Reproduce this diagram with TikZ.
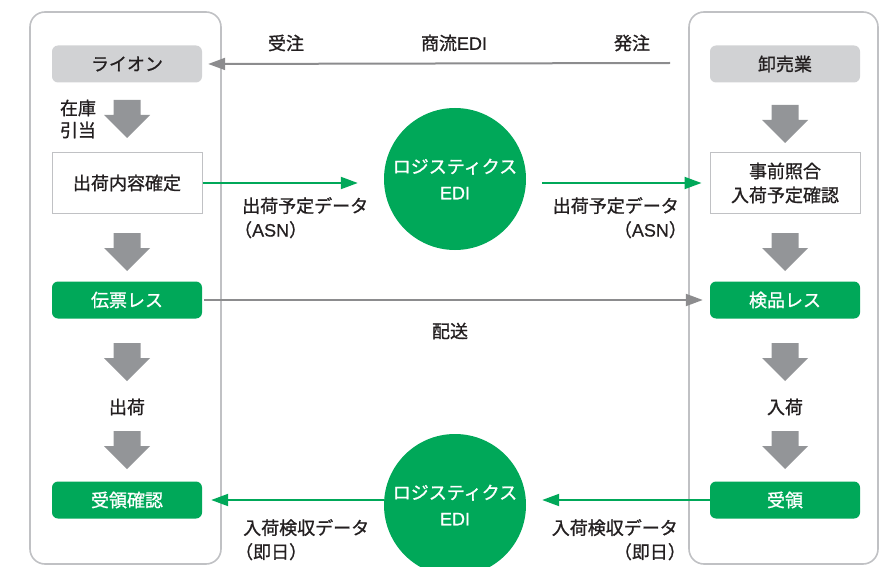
\documentclass[tikz,border=0pt]{standalone}
\usepackage{fontspec}
\setmainfont{Noto Sans CJK JP}[FakeBold=1.0]
\newfontfamily\latnfont{Liberation Sans}[FakeBold=0.6]
\usetikzlibrary{
  arrows.meta,
  positioning
}
\definecolor{edigreen}{RGB}{0,168,89}
\definecolor{boxgray}{RGB}{209,210,212}
\definecolor{arrgray}{RGB}{147,149,152}
\definecolor{linegray}{RGB}{140,140,142}
\definecolor{panelgray}{RGB}{192,193,196}
\definecolor{txtdark}{RGB}{35,31,32}
\newcommand{\lblfont}{\fontsize{18}{24}\selectfont}
\newcommand{\lat}[1]{{\latnfont #1}}

\begin{document}
\begin{tikzpicture}[
  x=1pt,y=-1pt,
  panel/.style={draw=panelgray,line width=1.6pt,rounded corners=15pt},
  headbox/.style={fill=boxgray,rounded corners=6pt,minimum width=150pt,
                  minimum height=37pt,font=\lblfont,text=txtdark},
  plainbox/.style={draw=panelgray,line width=1pt,fill=white,minimum width=150pt,
                   minimum height=60pt,align=center,font=\lblfont,text=txtdark},
  greenbox/.style={fill=edigreen,rounded corners=6pt,minimum width=150pt,
                   minimum height=37pt,font=\lblfont,text=white},
  hub/.style={circle,fill=edigreen,minimum size=142pt,inner sep=0pt,align=center,
              font=\fontsize{18}{26}\selectfont,text=white},
  lbl/.style={font=\lblfont,text=txtdark,inner sep=0pt},
  garr/.style={draw=edigreen,line width=2pt,-{Triangle[length=17pt,width=12pt]}},
  karr/.style={draw=linegray,line width=2pt,-{Triangle[length=17pt,width=12pt]}},
  downarr/.pic={\fill[arrgray] (-13.5,0) -- (13.5,0) -- (13.5,15) -- (23,15)
                -- (0,38) -- (-23,15) -- (-13.5,15) -- cycle;},
]
\useasboundingbox (0,0) rectangle (884,567);
\clip (0,0) rectangle (884,567);

% two company panels
\draw[panel] (30,12) rectangle (221,564);
\draw[panel] (689,12) rectangle (878,564);

% left column (Lion)
\node[headbox]  (lion)     at (127,64)  {ライオン};
\node[plainbox] (kakutei)  at (127,183) {出荷内容確定};
\node[greenbox] (denpyo)   at (127,300) {伝票レス};
\node[greenbox] (juryokak) at (127,500) {受領確認};
\node[lbl,align=left,font=\fontsize{18}{22}\selectfont] (hikiate) at (78,119) {在庫\\引当};
\node[lbl] (shukka) at (127,407) {出荷};
\pic at (127,100) {downarr};
\pic at (127,233) {downarr};
\pic at (127,343) {downarr};
\pic at (127,431) {downarr};

% right column (wholesaler)
\node[headbox]  (oroshi)  at (785,64)  {卸売業};
\node[plainbox] (shogo)   at (785,183) {事前照合\\入荷予定確認};
\node[greenbox] (kenpin)  at (785,300) {検品レス};
\node[greenbox] (juryo)   at (785,500) {受領};
\node[lbl] (nyuka) at (785,407) {入荷};
\pic at (785,105) {downarr};
\pic at (785,233) {downarr};
\pic at (785,343) {downarr};
\pic at (785,431) {downarr};

% logistics EDI hubs
\node[hub] (edi1) at (455,179) {ロジスティクス\\\lat{EDI}};
\node[hub] (edi2) at (455,505) {ロジスティクス\\\lat{EDI}};

% commercial EDI
\coordinate (hatchu) at (670,63);
\node[lbl] (juchulbl)  at (286,43) {受注};
\node[lbl] (shoryu)    at (454,43) {商流\lat{EDI}};
\node[lbl] (hatchulbl) at (632,43) {発注};
\draw[karr,shorten >=6pt] (hatchu) -- (lion.east);

% ASN
\draw[garr,shorten >=26pt] (kakutei.east) -- (kakutei.east -| edi1.west);
\draw[garr,shorten <=16pt,shorten >=8pt] (shogo.west -| edi1.east) -- (shogo.west);
\node[lbl,align=left,anchor=north west]  (asn1) at (242,197)
  {出荷予定データ\\\hspace*{-.45em}（\lat{ASN}）};
\node[lbl,align=right,anchor=north east] (asn2) at (679,197)
  {出荷予定データ\\（\lat{ASN}）\hspace*{-.45em}};

% delivery
\draw[karr,shorten <=2pt,shorten >=7pt] (denpyo.east) -- (kenpin.west);
\node[lbl] (haiso) at (450,331) {配送};

% receipt data
\draw[garr,shorten >=16pt] (juryo.west) -- (juryo.west -| edi2.east);
\draw[garr,shorten >=9pt] (juryokak.east -| edi2.west) -- (juryokak.east);
\node[lbl,align=left,anchor=north west]  (kenshu1) at (243,519)
  {入荷検収データ\\\hspace*{-.45em}（即日）};
\node[lbl,align=right,anchor=north east] (kenshu2) at (678,519)
  {入荷検収データ\\（即日）\hspace*{-.45em}};
\end{tikzpicture}
\end{document}
